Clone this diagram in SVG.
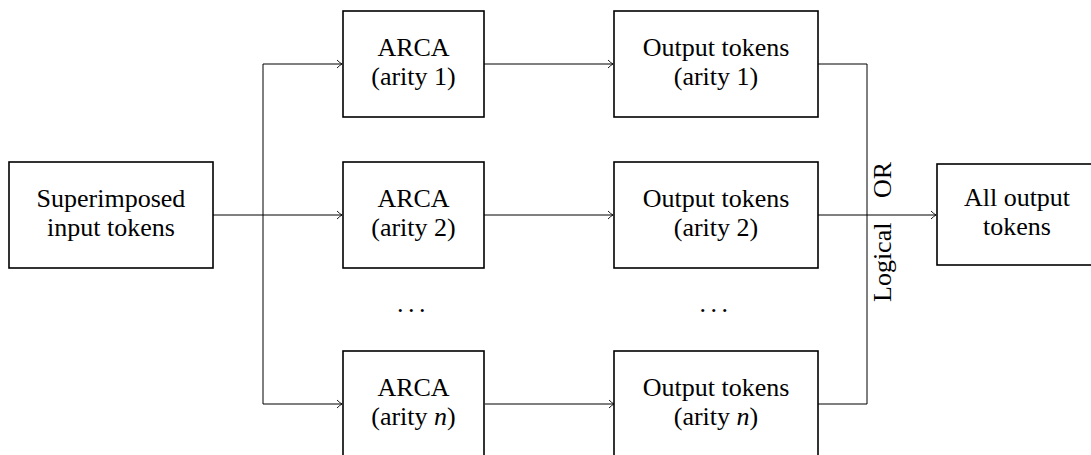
<svg xmlns="http://www.w3.org/2000/svg" width="1091" height="455" viewBox="0 0 1091 455">
<style>
  .box { fill: #fff; stroke: #000; stroke-width: 1.6; }
  .t { font-family: "Liberation Serif", "Times New Roman", serif; font-size: 26px; fill: #000; text-anchor: middle; }
  .c { fill: none; stroke: #000; stroke-width: 1; }
  .a { marker-end: url(#arr); }
</style>
<defs>
  <marker id="arr" viewBox="-6 -5 7 10" refX="0" refY="0" markerWidth="7" markerHeight="10" markerUnits="userSpaceOnUse" orient="auto">
    <path d="M-5,-4 Q-2,-1 0,0 Q-2,1 -5,4" fill="none" stroke="#000" stroke-width="0.9"/>
  </marker>
</defs>
<rect width="1091" height="455" fill="#fff"/>
<g id="connectors">
  <line class="c a" x1="213" y1="215" x2="342" y2="215"/>
  <path class="c" d="M263,64 L263,404"/>
  <line class="c a" x1="263" y1="64" x2="342" y2="64"/>
  <line class="c a" x1="263" y1="404" x2="342" y2="404"/>
  <line class="c a" x1="484" y1="64" x2="613" y2="64"/>
  <line class="c a" x1="484" y1="215" x2="613" y2="215"/>
  <line class="c a" x1="485" y1="404" x2="614" y2="404"/>
  <path class="c" d="M818,64 L867,64 L867,404 L818,404"/>
  <line class="c a" x1="818" y1="215" x2="936" y2="215"/>
  <text class="t" style="text-anchor:start" word-spacing="18" transform="translate(891,302) rotate(-90)">Logical OR</text>
</g>
<g id="input">
  <rect class="box" x="9" y="162" width="204" height="106"/>
  <text class="t" x="111" y="207">Superimposed</text>
  <text class="t" x="111" y="236">input tokens</text>
</g>
<g id="arca1">
  <rect class="box" x="343" y="11" width="141" height="106"/>
  <text class="t" x="413.5" y="56">ARCA</text>
  <text class="t" x="413.5" y="85">(arity 1)</text>
</g>
<g id="arca2">
  <rect class="box" x="343" y="162" width="141" height="106"/>
  <text class="t" x="413.5" y="207">ARCA</text>
  <text class="t" x="413.5" y="236">(arity 2)</text>
</g>
<g id="arca-dots">
  <text class="t" x="413.5" y="312" letter-spacing="4.5">...</text>
</g>
<g id="arcan">
  <rect class="box" x="343" y="351" width="141" height="106"/>
  <text class="t" x="413.5" y="396">ARCA</text>
  <text class="t" x="413.5" y="425">(arity <tspan font-style="italic">n</tspan>)</text>
</g>
<g id="out1">
  <rect class="box" x="614" y="11" width="204" height="106"/>
  <text class="t" x="716" y="56">Output tokens</text>
  <text class="t" x="716" y="85">(arity 1)</text>
</g>
<g id="out2">
  <rect class="box" x="614" y="162" width="204" height="106"/>
  <text class="t" x="716" y="207">Output tokens</text>
  <text class="t" x="716" y="236">(arity 2)</text>
</g>
<g id="out-dots">
  <text class="t" x="716" y="312" letter-spacing="4.5">...</text>
</g>
<g id="outn">
  <rect class="box" x="614" y="351" width="204" height="106"/>
  <text class="t" x="716" y="396">Output tokens</text>
  <text class="t" x="716" y="425">(arity <tspan font-style="italic">n</tspan>)</text>
</g>
<g id="all">
  <rect class="box" x="937" y="164" width="160" height="101"/>
  <text class="t" x="1017" y="206">All output</text>
  <text class="t" x="1017" y="235">tokens</text>
</g>
</svg>
